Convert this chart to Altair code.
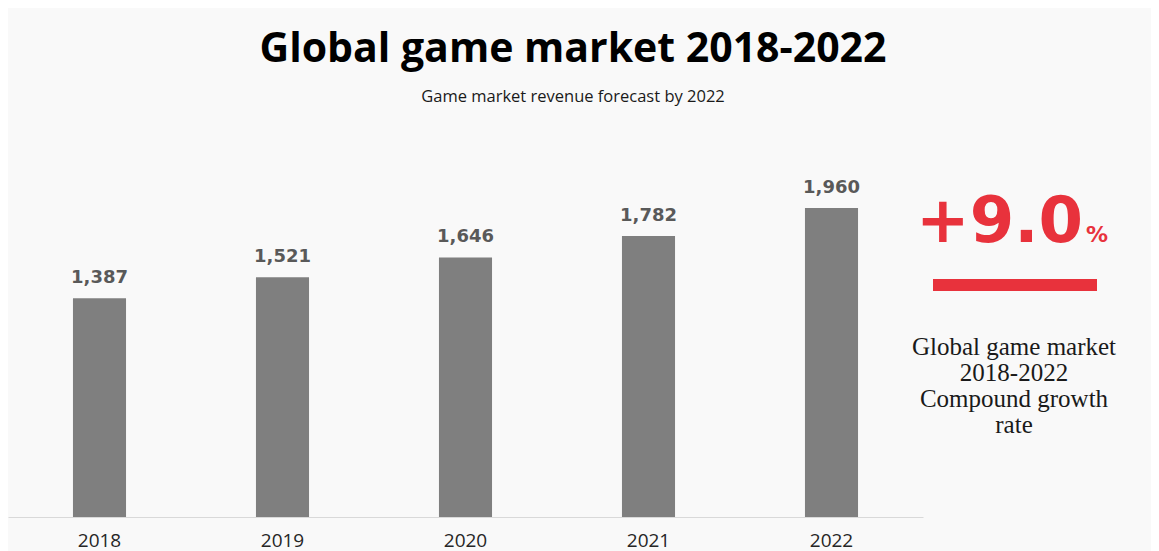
import altair as alt
import pandas as pd

years = ["2018", "2019", "2020", "2021", "2022"]
revenue = [1387, 1521, 1646, 1782, 1960]
value_labels = ["1,387", "1,521", "1,646", "1,782", "1,960"]

title_text = "Global game market 2018-2022"
subtitle_text = "Game market revenue forecast by 2022"
cagr_text = "+9.0"
cagr_unit = "%"
note_lines = ["Global game market", "2018-2022", "Compound growth", "rate"]

df = pd.DataFrame({"year": years, "revenue": revenue, "label": value_labels})

W, H = 1143, 509
RED = "#e8323c"

x = alt.X(
    "year:N",
    sort=years,
    axis=alt.Axis(
        title=None, labelAngle=0, ticks=False, domainColor="#d9d9d9",
        labelFont="Open Sans", labelFontSize=19, labelColor="#262626",
        labelBaseline="alphabetic", labelPadding=29,
    ),
    scale=alt.Scale(range=[0, 915], paddingInner=0.71, paddingOuter=0.355),
)
y = alt.Y("revenue:Q", axis=None, scale=alt.Scale(domain=[0, 3228], nice=False))

base = alt.Chart(df)
bars = base.mark_bar(color="#7f7f7f").encode(x=x, y=y)
labels = base.mark_text(
    font="DejaVu Sans", fontWeight="bold", fontSize=18, color="#595959",
    baseline="alphabetic", dy=-15,
).encode(x=x, y=y, text="label:N")

one = pd.DataFrame({"k": [0]})


def txt(text, xpos, ypos, **kw):
    return alt.Chart(one).mark_text(text=text, **kw).encode(
        x=alt.value(xpos), y=alt.value(ypos)
    )


title = txt(title_text, 565, 54, font="Open Sans", fontWeight="bold",
            fontSize=41, color="#000000", align="center", baseline="alphabetic")
subtitle = txt(subtitle_text, 565, 94, font="Open Sans", fontSize=16.5,
               color="#1a1a1a", align="center", baseline="alphabetic")
cagr = txt(cagr_text, 908, 234, font="DejaVu Sans", fontWeight="bold",
           fontSize=64, color=RED, align="left", baseline="alphabetic")
unit = txt(cagr_unit, 1078, 234, font="DejaVu Sans", fontWeight="bold",
           fontSize=22, color=RED, align="left", baseline="alphabetic")
redline = alt.Chart(one).mark_rule(color=RED, strokeWidth=12, strokeCap="butt").encode(
    x=alt.value(925), x2=alt.value(1089), y=alt.value(277)
)
note = txt(note_lines, 1006, 347, font="Liberation Serif", fontSize=25,
           lineHeight=26, color="#1a1a1a", align="center", baseline="alphabetic")

chart = alt.layer(bars, labels, title, subtitle, cagr, unit, redline, note).properties(
    width=W, height=H,
    autosize=alt.AutoSizeParams(type="none"),
    padding={"left": 0, "top": 0, "right": 0, "bottom": 34},
    background="#f9f9f9",
).configure_view(stroke=None)

chart.save("out.html", embed_options={"renderer": "svg", "actions": False})
